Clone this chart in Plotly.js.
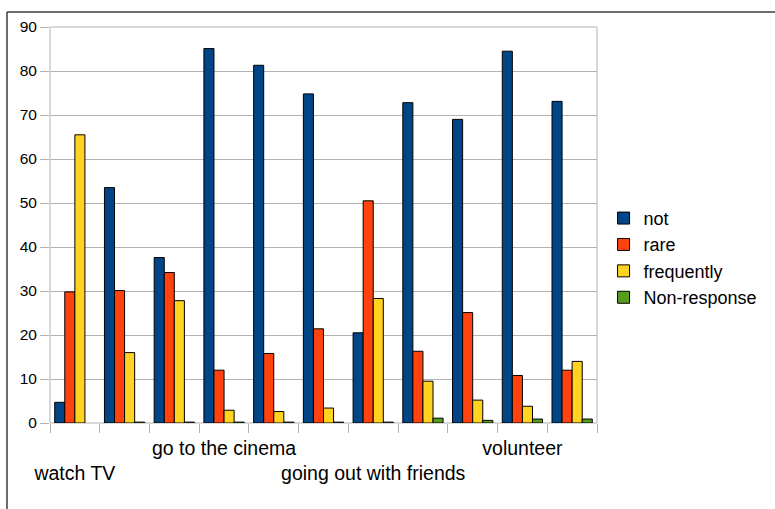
<!DOCTYPE html>
<html>
<head>
<meta charset="utf-8">
<script src="https://cdn.plot.ly/plotly-3.0.1.min.js"></script>
<style>
html,body{margin:0;padding:0;background:#fff;}
#chart{width:775px;height:509px;}
</style>
</head>
<body>
<div id="chart"></div>
<script>
// Category labels (LibreOffice hid the overlapping ones)
const categoryLabels = ["watch TV", "", "", "go to the cinema", "", "", "going out with friends", "", "", "volunteer", ""];
// row of each label: 0 = upper, 1 = lower (staggered)
const labelRow = [1, 0, 0, 0, 0, 0, 1, 0, 0, 0, 0];
const categoryIndex = [0, 1, 2, 3, 4, 5, 6, 7, 8, 9, 10];

const seriesNames = ["not", "rare", "frequently", "Non-response"];
const notValues = [4.7, 53.5, 37.6, 85.1, 81.3, 74.8, 20.5, 72.8, 69.0, 84.5, 73.1];
const rareValues = [29.8, 30.1, 34.2, 12.0, 15.8, 21.4, 50.5, 16.3, 25.1, 10.8, 12.0];
const frequentlyValues = [65.5, 16.0, 27.8, 2.9, 2.6, 3.4, 28.3, 9.5, 5.2, 3.8, 14.0];
const nonResponseValues = [null, 0.2, 0.2, 0.2, 0.2, 0.2, 0.2, 1.1, 0.6, 0.9, 0.9];

const colors = ["#004586", "#ff420e", "#ffd320", "#579d1c"];
const seriesValues = [notValues, rareValues, frequentlyValues, nonResponseValues];

const traces = seriesValues.map((vals, i) => ({
  type: "bar",
  name: seriesNames[i],
  x: categoryIndex,
  y: vals,
  marker: {color: colors[i], line: {color: "#000000", width: 1}},
  hoverinfo: "skip"
}));

const tickText = categoryLabels.map((t, i) => (labelRow[i] === 1 && t ? "<br>" + t : t));
const boundaries = [];
for (let i = 0; i <= categoryIndex.length; i++) boundaries.push(i - 0.5);

const fontFam = "Liberation Sans, Arial, sans-serif";

const layout = {
  width: 775,
  height: 509,
  margin: {l: 50, r: 178, t: 27, b: 86},
  paper_bgcolor: "#ffffff",
  plot_bgcolor: "#ffffff",
  barmode: "group",
  bargap: 0.19,
  bargroupgap: 0,
  showlegend: true,
  font: {family: fontFam, color: "#000000"},
  xaxis: {
    range: [-0.5, 10.5],
    tickmode: "array",
    tickvals: categoryIndex,
    ticktext: tickText,
    ticks: "",
    showgrid: false,
    zeroline: false,
    showline: false,
    tickangle: 0,
    ticklabelstandoff: 11,
    tickfont: {family: fontFam, size: 19.5, color: "#000000"},
    minor: {
      tickmode: "array",
      tickvals: boundaries,
      ticks: "outside",
      ticklen: 9,
      tickwidth: 1,
      tickcolor: "#b3b3b3",
      showgrid: false
    }
  },
  yaxis: {
    range: [0, 90],
    dtick: 10,
    tick0: 0,
    ticks: "outside",
    ticklen: 9,
    tickwidth: 1,
    tickcolor: "#b3b3b3",
    showgrid: true,
    gridcolor: "#b3b3b3",
    gridwidth: 1,
    zeroline: false,
    showline: false,
    tickfont: {family: fontFam, size: 15.5, color: "#000000"}
  },
  legend: {
    x: 1.012,
    xanchor: "left",
    y: 0.417,
    yanchor: "middle",
    font: {family: fontFam, size: 18, color: "#000000"},
    bgcolor: "rgba(0,0,0,0)",
    traceorder: "normal"
  },
  shapes: [
    {type: "rect", xref: "paper", yref: "paper", x0: 0, x1: 1, y0: 0, y1: 1,
     line: {color: "#b3b3b3", width: 1}, layer: "below"},
    {type: "line", xref: "paper", yref: "paper", x0: -0.0786, x1: 1.33, y0: 1.0379, y1: 1.0379,
     line: {color: "#3c3c3c", width: 1.5}},
    {type: "line", xref: "paper", yref: "paper", x0: -0.0786, x1: -0.0786, y0: 1.0379, y1: -0.25,
     line: {color: "#3c3c3c", width: 1.5}}
  ]
};

Plotly.newPlot("chart", traces, layout, {staticPlot: true, displayModeBar: false});
</script>
</body>
</html>
